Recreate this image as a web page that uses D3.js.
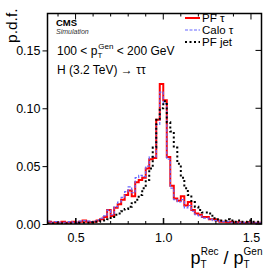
<!DOCTYPE html>
<html>
<head>
<meta charset="utf-8">
<script src="https://cdn.jsdelivr.net/npm/d3@7"></script>
<style>
  body { margin: 0; background: #fff; }
  svg { display: block; font-family: "Liberation Sans", Arial, sans-serif; }
</style>
</head>
<body>
<div id="chart"></div>
<script>
// bin edges: 0.34 -> 1.56, width 0.02
const binStart = 0.34;
const binWidth = 0.02;

const pfTau = [
  0.002, 0.001, 0.0015, 0.001, 0.002, 0.001, 0.0015, 0.002, 0.001, 0.002, 0.003,
  0.002, 0.0015, 0.002, 0.003, 0.004, 0.006,
  0.012, 0.007, 0.014, 0.017, 0.021, 0.025, 0.029, 0.024, 0.036, 0.038, 0.040,
  0.048, 0.056, 0.057, 0.090, 0.121, 0.107, 0.058, 0.033, 0.022, 0.020, 0.024,
  0.016, 0.019, 0.012, 0.009, 0.008, 0.006, 0.006, 0.004, 0.004, 0.003,
  0.002, 0.002, 0.0015, 0.002, 0.001, 0.0015, 0.001, 0.001, 0.0015, 0.001, 0.001, 0.001
];
const caloTau = [
  0.0025, 0.0015, 0.002, 0.0015, 0.0015, 0.0015, 0.002, 0.0015, 0.0015, 0.0025, 0.003,
  0.0025, 0.002, 0.0025, 0.0035, 0.005, 0.007,
  0.012, 0.008, 0.015, 0.019, 0.023, 0.028, 0.032, 0.027, 0.040, 0.042, 0.041,
  0.050, 0.058, 0.058, 0.086, 0.114, 0.104, 0.056, 0.031, 0.021, 0.019, 0.021,
  0.014, 0.016, 0.011, 0.008, 0.007, 0.005, 0.005, 0.004, 0.003, 0.003,
  0.002, 0.002, 0.002, 0.0015, 0.0015, 0.001, 0.0015, 0.001, 0.001, 0.0015, 0.001, 0.001
];
const pfJet = [
  0.0005, 0.0005, 0.0005, 0.0005, 0.0005, 0.0005, 0.0005, 0.0005, 0.0005, 0.001, 0.001,
  0.001, 0.0015, 0.002, 0.002, 0.003, 0.003,
  0.004, 0.006, 0.008, 0.009, 0.011, 0.013, 0.015, 0.018, 0.021, 0.025, 0.031,
  0.038, 0.048, 0.066, 0.090, 0.100, 0.106, 0.088, 0.080, 0.066, 0.052, 0.040,
  0.031, 0.025, 0.019, 0.015, 0.012, 0.010, 0.010, 0.009, 0.005, 0.004,
  0.003, 0.003, 0.004, 0.003, 0.002, 0.003, 0.002, 0.002, 0.003, 0.002, 0.002, 0.002
];

const xMajor = [0.5, 1.0, 1.5];
const yMajor = [0, 0.05, 0.10, 0.15];

const W = 280, H = 271;
const plot = { left: 47.5, right: 261.5, top: 13.5, bottom: 224 };

const x = d3.scaleLinear().domain([0.34, 1.56]).range([plot.left, plot.right]);
const y = d3.scaleLinear().domain([0, 0.1819]).range([plot.bottom, plot.top]);

const svg = d3.select("#chart").append("svg")
  .attr("width", W).attr("height", H);

svg.append("clipPath").attr("id", "clip")
  .append("rect")
  .attr("x", plot.left).attr("y", plot.top)
  .attr("width", plot.right - plot.left).attr("height", plot.bottom - plot.top);

// step outline of a histogram
const stepLine = d3.line()
  .x(d => x(d[0]))
  .y(d => y(d[1]))
  .curve(d3.curveStepAfter);

function histPoints(vals) {
  const pts = vals.map((v, i) => [binStart + i * binWidth, v]);
  pts.push([binStart + vals.length * binWidth, vals[vals.length - 1]]);
  return pts;
}

const g = svg.append("g").attr("clip-path", "url(#clip)");

g.append("path")
  .attr("d", stepLine(histPoints(pfTau)))
  .attr("fill", "none").attr("stroke", "#ff0000").attr("stroke-width", 2);

g.append("path")
  .attr("d", stepLine(histPoints(caloTau)))
  .attr("fill", "none").attr("stroke", "#6666ff").attr("stroke-width", 1.2)
  .attr("stroke-dasharray", "3,1.5");

g.append("path")
  .attr("d", stepLine(histPoints(pfJet)))
  .attr("fill", "none").attr("stroke", "#000").attr("stroke-width", 2)
  .attr("stroke-dasharray", "2,2.5");

// axes (ROOT style ticks)
const xAxis = d3.axisBottom(x).tickValues(xMajor).tickSizeInner(-6).tickSizeOuter(0)
  .tickFormat(d3.format(".1f")).tickPadding(9);
const gx = svg.append("g").attr("transform", `translate(0,${plot.bottom})`).call(xAxis);

const yAxis = d3.axisLeft(y).tickValues(yMajor).tickSizeInner(5).tickSizeOuter(0)
  .tickFormat(d3.format(".2f")).tickPadding(2);
const gy = svg.append("g").attr("transform", `translate(${plot.left},0)`).call(yAxis);

[gx, gy].forEach(a => {
  a.select(".domain").remove();
  a.selectAll("text").attr("font-size", 12.5).attr("fill", "#000")
    .attr("font-family", "Liberation Sans, Arial, sans-serif");
  a.selectAll("line").attr("stroke", "#000");
});

// minor x ticks and mirrored ticks on top / right
const xMinor = d3.range(0.4, 1.56, 0.1);
xMinor.forEach(v => {
  const big = xMajor.some(m => Math.abs(m - v) < 1e-6);
  const len = big ? 6 : 3;
  svg.append("line").attr("x1", x(v)).attr("x2", x(v))
    .attr("y1", plot.bottom).attr("y2", plot.bottom - len).attr("stroke", "#000");
  svg.append("line").attr("x1", x(v)).attr("x2", x(v))
    .attr("y1", plot.top).attr("y2", plot.top + len).attr("stroke", "#000");
});
yMajor.forEach(v => {
  svg.append("line").attr("x1", plot.right).attr("x2", plot.right - 6)
    .attr("y1", y(v)).attr("y2", y(v)).attr("stroke", "#000");
});

svg.append("rect")
  .attr("x", plot.left).attr("y", plot.top)
  .attr("width", plot.right - plot.left).attr("height", plot.bottom - plot.top)
  .attr("fill", "none").attr("stroke", "#000").attr("stroke-width", 1.5);

// axis titles
svg.append("text")
  .attr("transform", `translate(17,${plot.top - 5}) rotate(-90)`)
  .attr("text-anchor", "end").attr("font-size", 15.5)
  .text("p.d.f.");

const xt = svg.append("text").attr("x", plot.right + 1).attr("y", 264)
  .attr("text-anchor", "end").attr("font-size", 18);
xt.append("tspan").text("p");
xt.append("tspan").attr("font-size", 10).attr("dy", 4).text("T");
xt.append("tspan").attr("font-size", 10).attr("dx", -6).attr("dy", -13).text("Rec");
xt.append("tspan").attr("dy", 9).text(" / p");
xt.append("tspan").attr("font-size", 10).attr("dy", 4).text("T");
xt.append("tspan").attr("font-size", 10).attr("dx", -6).attr("dy", -13).text("Gen");

// CMS label
svg.append("text").attr("x", 56).attr("y", 26)
  .attr("font-weight", "bold").attr("font-size", 9.5).text("CMS");
svg.append("text").attr("x", 56).attr("y", 34)
  .attr("font-style", "italic").attr("font-size", 7).attr("fill", "#333").text("Simulation");

const t1 = svg.append("text").attr("x", 57).attr("y", 55).attr("font-size", 12);
t1.append("tspan").text("100 < p");
t1.append("tspan").attr("font-size", 8).attr("dy", 3).text("T");
t1.append("tspan").attr("font-size", 8).attr("dx", -4).attr("dy", -9).text("Gen");
t1.append("tspan").attr("dy", 6).text(" < 200 GeV");

svg.append("text").attr("x", 57).attr("y", 74).attr("font-size", 12)
  .text("H (3.2 TeV) \u2192 \u03c4\u03c4");

// legend
const legend = [
  { label: "PF \u03c4", color: "#ff0000", width: 2, dash: null },
  { label: "Calo \u03c4", color: "#6666ff", width: 1.2, dash: "3,1.5" },
  { label: "PF jet", color: "#000", width: 2, dash: "2,2.5" }
];
legend.forEach((d, i) => {
  const yy = 18 + i * 12;
  svg.append("line").attr("x1", 185).attr("x2", 200).attr("y1", yy).attr("y2", yy)
    .attr("stroke", d.color).attr("stroke-width", d.width)
    .attr("stroke-dasharray", d.dash);
  svg.append("text").attr("x", 202).attr("y", yy + 4).attr("font-size", 11.5).text(d.label);
});
</script>
</body>
</html>
